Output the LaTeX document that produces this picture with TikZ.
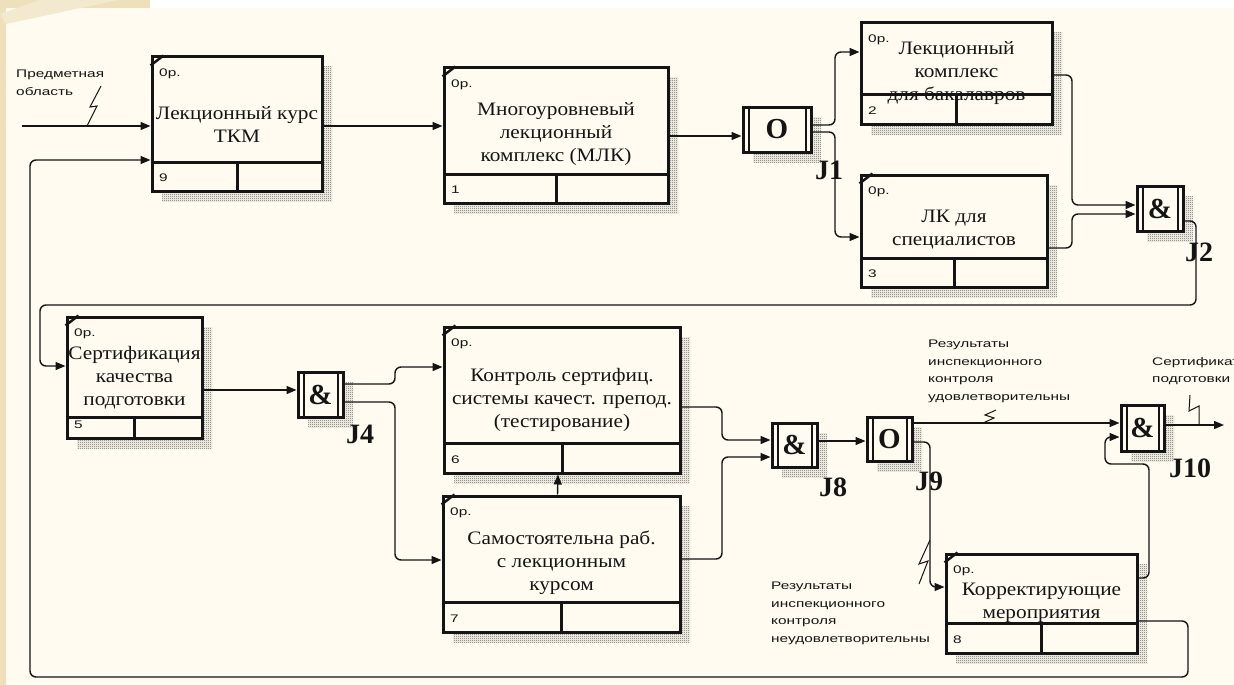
\documentclass[tikz,border=0pt]{standalone}
\usepackage{fontspec}
\setmainfont{Liberation Serif}
\newfontfamily\lblfont[FakeStretch=1.4]{Liberation Sans}
\newfontfamily\boxfont[FakeStretch=1.12]{Liberation Serif}
\usetikzlibrary{positioning,arrows.meta,fit,patterns}
\pgfdeclarepatternformonly{finecheck}{\pgfqpoint{0pt}{0pt}}{\pgfqpoint{2pt}{2pt}}%
  {\pgfqpoint{2pt}{2pt}}{%
  \pgfpathrectangle{\pgfqpoint{0pt}{0pt}}{\pgfqpoint{1pt}{1pt}}%
  \pgfpathrectangle{\pgfqpoint{1pt}{1pt}}{\pgfqpoint{1pt}{1pt}}%
  \pgfusepath{fill}}
\definecolor{ink}{RGB}{20,20,20}
\definecolor{paper}{RGB}{255,251,240}
\definecolor{frame}{RGB}{238,224,186}
\definecolor{hatch}{RGB}{95,95,95}
\tikzset{
  actbox/.style={draw=ink, fill=paper, line width=3pt, inner sep=0pt},
  jbox/.style={draw=ink, fill=paper, line width=3pt, inner sep=0pt},
  jbar/.style={draw=ink, line width=2pt},
  strip/.style={draw=ink, line width=3pt},
  hatchshade/.style={pattern=finecheck, pattern color=hatch},
  btext/.style={font=\boxfont\fontsize{19}{23}\selectfont, text=ink, align=center,
    inner sep=0pt},
  tag/.style={font=\lblfont\fontsize{11}{13}\selectfont, text=ink, anchor=west,
    inner sep=0pt},
  lbl/.style={font=\lblfont\fontsize{11}{17.5}\selectfont, text=ink, align=left,
    anchor=north west, inner sep=0pt},
  jsym/.style={font=\fontsize{29}{30}\selectfont\bfseries, text=ink, inner sep=0pt},
  jname/.style={font=\fontsize{28}{30}\selectfont\bfseries, text=ink, inner sep=0pt},
  flow/.style={-{Triangle[length=10pt,width=8pt]}, line width=1.4pt, draw=ink,
    rounded corners=6pt},
  squig/.style={line width=1pt, draw=ink},
}
% activity box: name, left, top, right, bottom, strip, number, text, text y
\newcommand{\actbox}[9]{%
  \fill[hatchshade] (#2+10,#3+10) rectangle (#4+10,#5+10);
  \node[actbox, fit={(#2,#3) (#4,#5)}] (#1) {};
  \node[btext] (#1x) at ({(#2+#4)/2},#9) {#8};
  \draw[strip] (#2,#6) -- (#4,#6) ({(#2+#4)/2},#6) -- ({(#2+#4)/2},#5);
  \node[tag] (#1t) at (#2+7,#3+17) {0р.};
  \node[tag] (#1n) at (#2+7,#5-13) {#7};
}
% junction: name, left, top, right, bottom, symbol
\newcommand{\jct}[6]{%
  \fill[hatchshade] (#2+10,#3+10) rectangle (#4+10,#5+10);
  \node[jbox, fit={(#2,#3) (#4,#5)}] (#1) {};
  \draw[jbar] ([xshift=7pt]#1.north west) -- ([xshift=7pt]#1.south west)
    ([xshift=-7pt]#1.north east) -- ([xshift=-7pt]#1.south east);
  \node[jsym] (#1s) at (#1.center) {#6};
}

\begin{document}
\begin{tikzpicture}[x=1pt,y=-1pt]
  \useasboundingbox (0,0) rectangle (1234,685);
  \fill[frame] (0,0) rectangle (1234,685);
  \fill[white] (150,0) rectangle (1234,8);
  \fill[paper] (6,8) rectangle (1234,685);
  \fill[frame!70!white] (0,14) -- (40,0) -- (118,0) -- (6,24) -- cycle;

  % boxes
  \actbox{a9}{152}{57}{322}{191}{162}{9}{Лекционный курс\\ТКМ}{124}
  \actbox{a1}{444}{68}{668}{203}{174}{1}{Многоуровневый\\лекционный\\комплекс (МЛК)}{134}
  \actbox{a2}{861}{23}{1052}{124}{94}{2}{Лекционный\\комплекс\\для бакалавров}{73}
  \actbox{a3}{861}{175}{1047}{287}{258}{3}{ЛК для\\специалистов}{230}
  \actbox{a5}{67}{317}{202}{438}{417}{5}{Сертификация\\качества\\подготовки}{378}
  \actbox{a6}{444}{327}{680}{473}{443}{6}{Контроль сертифиц.\\системы качест. препод.\\(тестирование)}{400}
  \actbox{a7}{443}{496}{680}{632}{602}{7}{Самостоятельна раб.\\с лекционным\\курсом}{563}
  \actbox{a8}{946}{554}{1137}{653}{623}{8}{Корректирующие\\мероприятия}{603}
  \foreach \b in {a9,a1,a3,a5,a6,a7,a8}
    \draw[strip, line width=2.5pt] (\b.north west) ++(0,10) -- ++(13,-10);

  % junctions
  \jct{j1}{743}{107}{811}{152}{O}
  \jct{j2}{1137}{186}{1183}{231}{\&}
  \jct{j4}{298}{372}{343}{417}{\&}
  \jct{j8}{772}{423}{817}{467}{\&}
  \jct{j9}{867}{417}{912}{461}{O}
  \jct{j10}{1121}{405}{1164}{451}{\&}
  \node[jname] (j1l) at (829,170) {J1};
  \node[jname] (j2l) at (1199,252) {J2};
  \node[jname] (j4l) at (360,434) {J4};
  \node[jname] (j8l) at (833,487) {J8};
  \node[jname] (j9l) at (929,481) {J9};
  \node[jname] (j10l) at (1190,468) {J10};

  % labels
  \node[lbl] (inlbl) at (16,70) {Предметная\\область};
  \node[lbl] (oklbl) at (928,340) {Результаты\\инспекционного\\контроля\\удовлетворительны};
  \node[lbl] (badlbl) at (771,582) {Результаты\\инспекционного\\контроля\\неудовлетворительны};
  \node[lbl] (outlbl) at (1152,357) {Сертификат\\подготовки};

  \coordinate (in1) at (22,126);
  \coordinate (out) at (1224,425);

  % arrows
  \draw[flow] (in1) -- (a9.west |- in1);
  \draw[flow] (a9.east |- 0,126) -- (a1.west |- 0,126);
  \draw[flow] (a1.east |- 0,136) -- (j1.west |- 0,136);
  \draw[flow] (j1.east |- 0,125) -- (835,125) |- (a2.west |- 0,52);
  \draw[flow] (j1.east |- 0,132) -- (835,132) |- (a3.west |- 0,237);
  \draw[flow] (a2.east |- 0,75) -- (1072,75) |- (j2.west |- 0,205);
  \draw[flow] (a3.east |- 0,248) -- (1072,248) |- (j2.west |- 0,214);
  \draw[flow] (j2.east |- 0,221) -- (1196,221) |- (40,305) |- (a5.west |- 0,366);
  \draw[flow] (a5.east |- 0,390) -- (j4.west |- 0,390);
  \draw[flow] (j4.east |- 0,384) -- (395,384) |- (a6.west |- 0,367);
  \draw[flow] (j4.east |- 0,402) -- (395,402) |- (a7.west |- 0,560);
  \draw[flow] ([xshift=-4pt]a7.north) -- ([xshift=-4pt]a6.south);
  \draw[flow] (a6.east |- 0,407) -- (722,407) |- (j8.west |- 0,440);
  \draw[flow] (a7.east |- 0,559) -- (722,559) |- (j8.west |- 0,457);
  \draw[flow] (j8.east |- 0,441) -- (j9.west |- 0,441);
  \draw[flow] (j9.east |- 0,423) -- (j10.west |- 0,423);
  \draw[flow] (j9.east |- 0,442) -- (930,442) |- (a8.west |- 0,587);
  \draw[flow] (a8.east |- 0,578) -- (1149,578) |- (1105,464) |- (j10.west |- 0,437);
  \draw[flow] (a8.east |- 0,621) -- (1188,621) |- (30,677) |- (a9.west |- 0,160);
  \draw[flow] (j10.east |- 0,425) -- (out);

  % squiggles
  \draw[squig] (87,126) -- (97,106) -- (90,107) -- (101,86);
  \draw[squig] (983,423) -- (994,418) -- (985,415) -- (996,410);
  \draw[squig] (919,584) -- (928,561) -- (919,564) -- (930,540);
  \draw[squig] (1199,425) -- (1199,406) -- (1189,411) -- (1190,395);
\end{tikzpicture}
\end{document}
